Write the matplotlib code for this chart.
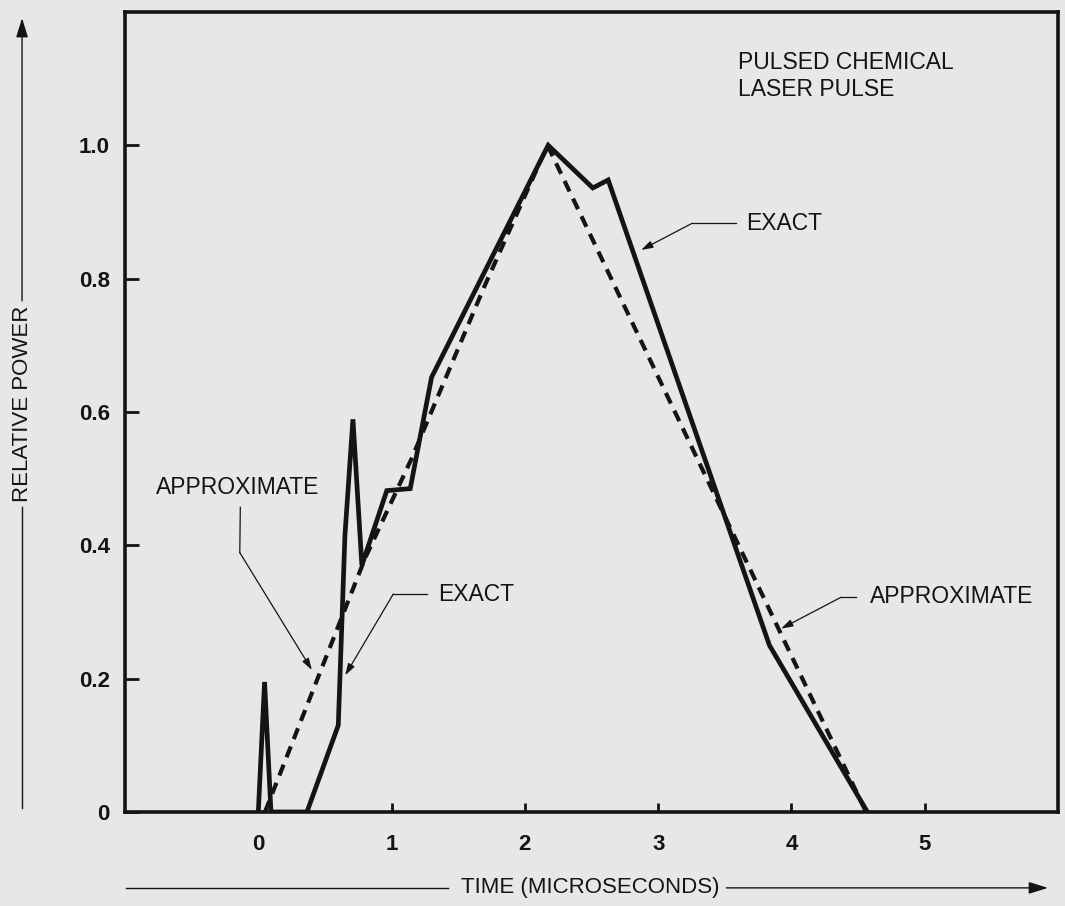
import matplotlib
matplotlib.use('Agg')
import matplotlib.pyplot as plt
from matplotlib.patches import FancyArrowPatch

plt.rcParams['font.family'] = ['Liberation Sans', 'DejaVu Sans']

# exact pulse (solid)
exact_t = [0.00, 0.047, 0.095, 0.365, 0.60, 0.65, 0.71, 0.777, 0.964, 1.14, 1.30, 2.175, 2.51, 2.625, 3.835, 4.57]
exact_p = [0.00, 0.195, 0.00, 0.00, 0.13, 0.415, 0.589, 0.37, 0.482, 0.485, 0.652, 1.00, 0.936, 0.948, 0.25, 0.00]

# approximate pulse (dashed)
approx_t = [0.05, 0.80, 1.15, 1.70, 2.17, 4.56]
approx_p = [0.00, 0.38, 0.53, 0.79, 1.00, 0.00]

x_ticks = [0, 1, 2, 3, 4, 5]
y_ticks = [0, 0.2, 0.4, 0.6, 0.8, 1.0]
y_labels = ['0', '0.2', '0.4', '0.6', '0.8', '1.0']

paper = '#e7e7e5'
ink = '#141414'

fig = plt.figure(figsize=(10.65, 9.06), dpi=100, facecolor=paper)
ax = fig.add_axes([0.1174, 0.1038, 0.876, 0.883], facecolor=paper)

ax.plot(exact_t, exact_p, color=ink, lw=3.4, solid_joinstyle='miter')
ax.plot(approx_t, approx_p, color=ink, lw=3.0, linestyle=(0, (2.8, 1.9)))

ax.set_xlim(-1, 6)
ax.set_ylim(0, 1.2)
ax.set_xticks(x_ticks)
ax.set_xticklabels([str(v) for v in x_ticks])
ax.set_yticks(y_ticks)
ax.set_yticklabels(y_labels)
ax.tick_params(axis='y', direction='in', length=10, width=2, pad=11, labelsize=16, colors=ink)
ax.tick_params(axis='x', direction='in', length=6.5, width=2, pad=16, labelsize=16, colors=ink)
for lab in ax.get_xticklabels() + ax.get_yticklabels():
    lab.set_fontweight('bold')
for s in ax.spines.values():
    s.set_linewidth(2.6)
    s.set_color(ink)

fs = 16.5
ax.text(3.6, 1.104, 'PULSED CHEMICAL\nLASER PULSE', fontsize=fs, color=ink,
        ha='left', va='center', linespacing=1.25)

arr = dict(arrowstyle='-|>,head_length=0.7,head_width=0.22', color=ink, lw=0.9, shrinkA=0, shrinkB=0)

# top "EXACT"
ax.text(3.663, 0.882, 'EXACT', fontsize=fs, color=ink, ha='left', va='center')
ax.plot([3.585, 3.255], [0.883, 0.883], color=ink, lw=0.9)
ax.annotate('', xy=(2.873, 0.843), xytext=(3.255, 0.883), arrowprops=arr)

# lower "EXACT"
ax.text(1.348, 0.326, 'EXACT', fontsize=fs, color=ink, ha='left', va='center')
ax.plot([1.264, 1.013], [0.327, 0.327], color=ink, lw=0.9)
ax.annotate('', xy=(0.652, 0.205), xytext=(1.013, 0.327), arrowprops=arr)

# left "APPROXIMATE"
ax.text(-0.157, 0.487, 'APPROXIMATE', fontsize=fs, color=ink, ha='center', va='center')
ax.plot([-0.135, -0.139], [0.457, 0.389], color=ink, lw=0.9)
ax.annotate('', xy=(0.402, 0.213), xytext=(-0.139, 0.389), arrowprops=arr)

# right "APPROXIMATE"
ax.text(4.592, 0.323, 'APPROXIMATE', fontsize=fs, color=ink, ha='left', va='center')
ax.plot([4.487, 4.372], [0.322, 0.322], color=ink, lw=0.9)
ax.annotate('', xy=(3.923, 0.275), xytext=(4.372, 0.322), arrowprops=arr)

# axis titles with long arrows, as in the original figure
head = dict(arrowstyle='-|>,head_length=0.9,head_width=0.28', color=ink, lw=1.0,
            shrinkA=0, shrinkB=0, mutation_scale=13)
fig.text(0.0207, 0.554, 'RELATIVE POWER', rotation=90, fontsize=16, color=ink, ha='center', va='center')
fig.add_artist(plt.Line2D([0.0207, 0.0207], [0.108, 0.440], color=ink, lw=1.0))
fig.add_artist(FancyArrowPatch((0.0207, 0.668), (0.0207, 0.980), transform=fig.transFigure, **head))

fig.text(0.554, 0.020, 'TIME (MICROSECONDS)', fontsize=16, color=ink, ha='center', va='center')
fig.add_artist(plt.Line2D([0.118, 0.421], [0.020, 0.020], color=ink, lw=1.0))
fig.add_artist(FancyArrowPatch((0.682, 0.020), (0.984, 0.020), transform=fig.transFigure, **head))

fig.savefig('out.png', dpi=100, facecolor=paper)
